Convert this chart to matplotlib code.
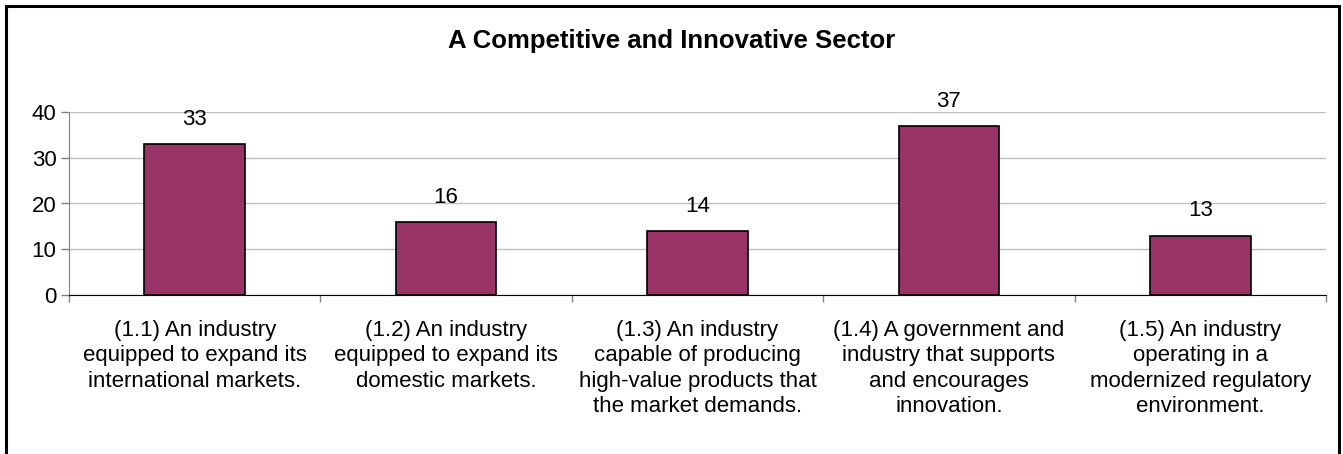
import matplotlib
matplotlib.use("Agg")
import matplotlib.pyplot as plt
import matplotlib.patches as mpatches
from matplotlib.ticker import FixedLocator, NullFormatter

categories = [
    "(1.1) An industry\nequipped to expand its\ninternational markets.",
    "(1.2) An industry\nequipped to expand its\ndomestic markets.",
    "(1.3) An industry\ncapable of producing\nhigh-value products that\nthe market demands.",
    "(1.4) A government and\nindustry that supports\nand encourages\ninnovation.",
    "(1.5) An industry\noperating in a\nmodernized regulatory\nenvironment.",
]
values = [33, 16, 14, 37, 13]
yticks = [0, 10, 20, 30, 40]

plt.rcParams['font.family'] = ['Liberation Sans', 'DejaVu Sans']

W, H = 1343, 454
fig = plt.figure(figsize=(W / 100, H / 100), dpi=100)
ax = fig.add_axes([69 / W, 1 - 295 / H, (1326 - 69) / W, (295 - 112) / H])

x = list(range(len(values)))
bars = ax.bar(x, values, width=0.4, color="#993366", edgecolor="black", linewidth=1.2, zorder=3)
for xi, v in zip(x, values):
    ax.text(xi, v + 5.4, str(v), ha="center", va="center", fontsize=16)

ax.set_xlim(-0.5, len(values) - 0.5)
ax.set_ylim(0, 40)
ax.set_yticks(yticks)
ax.tick_params(axis="y", labelsize=16, length=6, width=1, color="#808080", pad=3)
ax.yaxis.grid(True, color="#c0c0c0", linewidth=1, zorder=0)

# category labels centred, tick marks on the boundaries
ax.xaxis.set_major_locator(FixedLocator([i - 0.5 for i in range(len(values) + 1)]))
ax.xaxis.set_major_formatter(NullFormatter())
ax.tick_params(axis="x", length=5, width=1, color="#808080")
for xi, lab in zip(x, categories):
    ax.text(xi, -5.4, lab, ha="center", va="top", fontsize=16, linespacing=1.28,
            transform=ax.transData)

for s in ["top", "right"]:
    ax.spines[s].set_visible(False)
ax.spines["left"].set_color("#808080")
ax.spines["bottom"].set_color("black")

fig.text(0.5, 1 - 41 / H, "A Competitive and Innovative Sector", ha="center", va="center",
         fontsize=18.5, fontweight="bold")

border = mpatches.Rectangle((6 / W, -0.1), (1339 - 6) / W, 1.1 - 6 / H, transform=fig.transFigure,
                            fill=False, edgecolor="black", linewidth=2.2)
fig.patches.append(border)

fig.savefig("out.png", dpi=100)
